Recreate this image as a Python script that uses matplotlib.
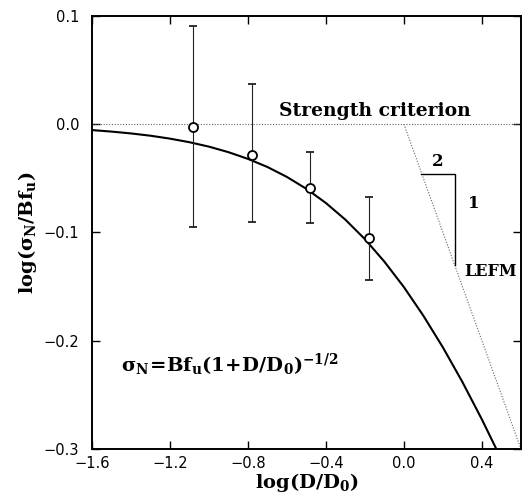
import matplotlib
matplotlib.use("Agg")
import matplotlib.pyplot as plt

# --- data ---
curve_x = [-1.6, -1.5, -1.4, -1.3, -1.2, -1.1, -1.0, -0.9, -0.8, -0.7, -0.6,
           -0.5, -0.4, -0.3, -0.2, -0.1, 0.0, 0.1, 0.2, 0.3, 0.4, 0.5]
curve_y = [-0.0054, -0.0068, -0.0085, -0.0106, -0.0133, -0.0166, -0.0207,
           -0.0258, -0.0320, -0.0395, -0.0487, -0.0597, -0.0728, -0.0882,
           -0.1062, -0.1270, -0.1505, -0.1770, -0.2062, -0.2382, -0.2728,
           -0.3097]

pts_x = [-1.08, -0.78, -0.48, -0.18]
pts_y = [-0.003, -0.028, -0.059, -0.105]
err_hi = [0.0905, 0.037, -0.026, -0.067]
err_lo = [-0.095, -0.0905, -0.091, -0.144]

strength_x = [-1.6, 0.6]
strength_y = [0.0, 0.0]
lefm_x = [0.0, 0.6]
lefm_y = [0.0, -0.3]
tri_x = [0.09, 0.26, 0.26]
tri_y = [-0.046, -0.046, -0.13]

xticks = [-1.6, -1.2, -0.8, -0.4, 0.0, 0.4]
yticks = [-0.3, -0.2, -0.1, 0.0, 0.1]

plt.rcParams['mathtext.fontset'] = 'dejavuserif'
plt.rcParams['mathtext.default'] = 'bf'

fig = plt.figure(figsize=(5.22, 4.96), dpi=100)
ax = fig.add_axes([0.176, 0.0948, 0.822, 0.873])

ax.plot(strength_x, strength_y, color='#666666', lw=0.8, linestyle=(0, (1, 1.5)))
ax.plot(lefm_x, lefm_y, color='#666666', lw=0.8, linestyle=(0, (1, 1.5)))
ax.plot(tri_x, tri_y, color='black', lw=1.0)
ax.plot(curve_x, curve_y, color='black', lw=1.5)

yerr = [[p - l for p, l in zip(pts_y, err_lo)], [h - p for p, h in zip(pts_y, err_hi)]]
ax.errorbar(pts_x, pts_y, yerr=yerr, fmt='o', mfc='white', mec='black', mew=1.3,
            ms=6.5, ecolor='#222222', elinewidth=0.8, capsize=2.8, capthick=0.8,
            zorder=5)

ax.set_xlim(-1.6, 0.6)
ax.set_ylim(-0.3, 0.1)
ax.set_xticks(xticks)
ax.set_yticks(yticks)
ax.set_xticklabels([f"{v:.1f}".replace('-', '\u2212') for v in xticks])
ax.set_yticklabels([f"{v:.1f}".replace('-', '\u2212') for v in yticks])
ax.tick_params(direction='in', length=6, width=1, top=True, right=True,
               labelsize=10.5)
ax.tick_params(axis='x', pad=5)
ax.tick_params(axis='y', pad=9)
for s in ax.spines.values():
    s.set_linewidth(1.4)

serif = dict(family='DejaVu Serif', weight='bold')
ax.text(-0.64, 0.008, 'Strength criterion', fontsize=13.5, **serif)
ax.text(0.174, -0.034, '2', fontsize=12, ha='center', va='center', **serif)
ax.text(0.33, -0.073, '1', fontsize=12, ha='left', va='center', **serif)
ax.text(0.31, -0.136, 'LEFM', fontsize=11.5, ha='left', va='center', **serif)
ax.text(-1.45, -0.222, r'$\sigma_N\!=\!Bf_u(1\!+\!D/D_0)^{-1/2}$', fontsize=14,
        ha='left', va='center')

ax.set_xlabel(r'$log(D/D_0)$', fontsize=14, labelpad=0)
ax.set_ylabel(r'$log(\sigma_N/Bf_u)$', fontsize=14, labelpad=3)

fig.savefig('out.png', dpi=100)
